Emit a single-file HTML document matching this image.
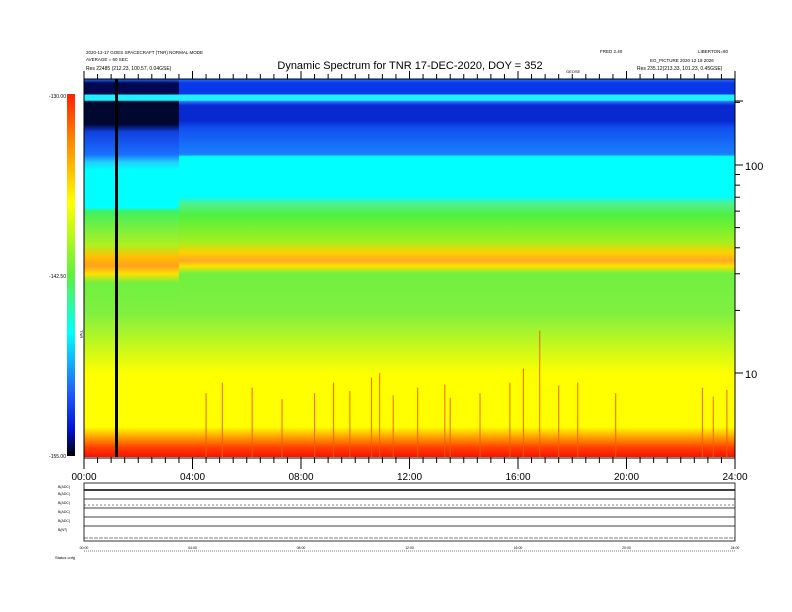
<!DOCTYPE html>
<html><head><meta charset="utf-8"><style>
html,body{margin:0;padding:0;background:#fff;}
svg{display:block;font-family:"Liberation Sans",sans-serif;}
</style></head><body>
<svg id="c" width="792" height="612" viewBox="0 0 792 612">
<defs>
<linearGradient id="cbar" x1="0" y1="0" x2="0" y2="1">
<stop offset="0" stop-color="#ff2000"/><stop offset="0.12" stop-color="#ff8000"/>
<stop offset="0.3" stop-color="#ffff00"/><stop offset="0.5" stop-color="#60f040"/>
<stop offset="0.66" stop-color="#00ffff"/><stop offset="0.82" stop-color="#2060ff"/>
<stop offset="0.93" stop-color="#0010d0"/><stop offset="1" stop-color="#000000"/>
</linearGradient>
<linearGradient id="profR" x1="0" y1="79" x2="0" y2="457" gradientUnits="userSpaceOnUse">
<stop offset="0" stop-color="#2a70ff"/><stop offset="0.011" stop-color="#0838e8"/>
<stop offset="0.04" stop-color="#0838e8"/><stop offset="0.042" stop-color="#20f0ff"/>
<stop offset="0.056" stop-color="#20f0ff"/><stop offset="0.06" stop-color="#2a70ff"/>
<stop offset="0.07" stop-color="#0828d0"/><stop offset="0.11" stop-color="#0828d0"/>
<stop offset="0.13" stop-color="#1050f0"/><stop offset="0.2" stop-color="#1a80ff"/>
<stop offset="0.205" stop-color="#00ffff"/><stop offset="0.31" stop-color="#00ffff"/>
<stop offset="0.33" stop-color="#50f090"/><stop offset="0.36" stop-color="#50f040"/>
<stop offset="0.43" stop-color="#a0f020"/><stop offset="0.46" stop-color="#ffd000"/>
<stop offset="0.48" stop-color="#ffa828"/><stop offset="0.495" stop-color="#ffe000"/>
<stop offset="0.515" stop-color="#70f040"/><stop offset="0.62" stop-color="#80f040"/>
<stop offset="0.78" stop-color="#ffff00"/><stop offset="0.92" stop-color="#ffff00"/>
<stop offset="0.95" stop-color="#ff9800"/><stop offset="0.975" stop-color="#ff4000"/><stop offset="1" stop-color="#ff1000"/>
</linearGradient>
<linearGradient id="profL" x1="0" y1="79" x2="0" y2="457" gradientUnits="userSpaceOnUse">
<stop offset="0" stop-color="#2a70ff"/><stop offset="0.011" stop-color="#000850"/>
<stop offset="0.04" stop-color="#000850"/><stop offset="0.042" stop-color="#20f0ff"/>
<stop offset="0.056" stop-color="#20f0ff"/><stop offset="0.06" stop-color="#000830"/>
<stop offset="0.12" stop-color="#000830"/><stop offset="0.14" stop-color="#1040e0"/>
<stop offset="0.2" stop-color="#1a70ff"/><stop offset="0.22" stop-color="#20d0ff"/>
<stop offset="0.24" stop-color="#00ffff"/><stop offset="0.34" stop-color="#00ffff"/>
<stop offset="0.35" stop-color="#40f060"/><stop offset="0.44" stop-color="#b0f020"/>
<stop offset="0.47" stop-color="#ffc000"/><stop offset="0.495" stop-color="#ffa020"/>
<stop offset="0.515" stop-color="#ffe000"/><stop offset="0.54" stop-color="#70f040"/>
<stop offset="0.62" stop-color="#80f040"/><stop offset="0.78" stop-color="#ffff00"/>
<stop offset="0.92" stop-color="#ffff00"/><stop offset="0.95" stop-color="#ff9800"/>
<stop offset="0.975" stop-color="#ff4000"/><stop offset="1" stop-color="#ff1000"/>
</linearGradient>
</defs>
<text x="86" y="54" font-size="4.5">2020-12-17 GOES SPACECRAFT (TNR) NORMAL MODE</text>
<text x="86" y="61" font-size="4.5">AVERAGE = 60 SEC</text>
<text x="86" y="70" font-size="5">Res   22485 (212.23, 100.57, 0.04GSE)</text>
<text x="410" y="69" font-size="11" text-anchor="middle">Dynamic Spectrum for TNR 17-DEC-2020, DOY = 352</text>
<text x="600" y="53" font-size="4.5">FRED 2.40</text>
<text x="698" y="53" font-size="4.5">LIBERTON=60</text>
<text x="650" y="62" font-size="4.5">EG_PICTURE 2020 12 18 2026</text>
<text x="637" y="70" font-size="5">Res   235.12(213.33, 101.23, 0.45GSE)</text>
<text x="566" y="73" font-size="4">GEOSE</text>
<g id="spec"></g>
<rect x="67" y="94" width="8" height="362" fill="url(#cbar)"/>
<text x="66" y="98" font-size="5" text-anchor="end">-130.00</text>
<text x="66" y="278" font-size="5" text-anchor="end">-142.50</text>
<text x="66" y="458" font-size="5" text-anchor="end">-155.00</text>
<text x="80" y="330" font-size="4" transform="rotate(90 80 330)">TNR</text>
<text x="745" y="170" font-size="11">100</text>
<text x="745" y="378" font-size="11">10</text>
<g id="axes"></g>
<g id="panels"></g>
<text x="55" y="559" font-size="4">Status  cnfg</text>
</svg>
<script>
const hourLabels=["00:00","04:00","08:00","12:00","16:00","20:00","24:00"];
const spikeHours=[4.5,5.1,6.2,7.3,8.5,9.2,9.8,10.6,10.9,11.4,12.3,13.3,13.5,14.6,15.7,16.2,16.8,17.5,18.2,19.6,22.8,23.2,23.7];
const spikeFreq=[8,9,8.5,7.5,8,9,8.2,9.5,10,7.8,8.5,8.8,7.6,8,9,10.5,16,8.7,9,8,8.5,7.7,8.3];
const yTickFreqs=[10,20,30,40,50,60,70,80,90,100,200];
const NS="http://www.w3.org/2000/svg";
const X0=84,X1=735,Y0=79,Y1=457;
const xs=h=>X0+(X1-X0)*h/24;
const ys=f=>373-(Math.log10(f)-1)*208;
function mk(p,tag,at){const e=document.createElementNS(NS,tag);for(const k in at)e.setAttribute(k,at[k]);p.appendChild(e);return e;}
const spec=document.getElementById('spec');
let r=mk(spec,'rect',{x:X0,y:Y0,width:X1-X0,height:Y1-Y0,fill:'url(#profR)'});


r=mk(spec,'rect',{x:X0,y:Y0,width:xs(3.5)-X0,height:Y1-Y0,fill:'url(#profL)'});


spikeHours.forEach((h,i)=>{
  const s=mk(spec,'line',{x1:xs(h),x2:xs(h),y1:ys(spikeFreq[i]),y2:Y1,stroke:'#f06000','stroke-width':1.2,'stroke-opacity':0.8});
  
  
});
r=mk(spec,'rect',{x:115,y:Y0,width:3,height:Y1-Y0,fill:'#000'});


const ax=document.getElementById('axes');
mk(ax,'line',{x1:X0,x2:X1,y1:Y0,y2:Y0,stroke:'#000','stroke-width':1});
mk(ax,'line',{x1:X0,x2:X1,y1:Y1+1,y2:Y1+1,stroke:'#000','stroke-width':1});
mk(ax,'line',{x1:X1,x2:X1,y1:Y0-8,y2:Y1+12,stroke:'#000','stroke-width':1});
mk(ax,'line',{x1:X0,x2:X0,y1:Y0-8,y2:Y1+12,stroke:'#000','stroke-width':1});
for(let m=0;m<=24*2;m++){const h=m/2,big=m%8==0;
  mk(ax,'line',{x1:xs(h),x2:xs(h),y1:Y0,y2:Y0-(big?8:5),stroke:'#000'});
  mk(ax,'line',{x1:xs(h),x2:xs(h),y1:Y1,y2:Y1+(big?12:6),stroke:'#000'});}
hourLabels.forEach((l,i)=>{const t=mk(ax,'text',{x:xs(i*4),y:480,'font-size':10,'text-anchor':'middle'});t.textContent=l;
  
  });
yTickFreqs.forEach(f=>{const y=ys(f);if(y<Y0||y>Y1)return;const big=(f==10||f==100);
  mk(ax,'line',{x1:X1,x2:X1+(big?8:5),y1:y,y2:y,stroke:'#000'});});
mk(ax,'line',{x1:X1,x2:X1+8,y1:Y0+22,y2:Y0+22,stroke:'#000'});
const pn=document.getElementById('panels');
const rows=[483,490,499,508,517,526,541];
const names=["B(ADC)","B(ADC)","B(ADC)","B(ADC)","B(ADC)","B(NT)"];
for(let i=0;i<6;i++){const t=mk(pn,'text',{x:58,y:rows[i]+5,'font-size':3.5});t.textContent=names[i];}
mk(pn,'rect',{x:X0,y:483,width:X1-X0,height:58,fill:'none',stroke:'#000','stroke-width':0.8});
[499,508,517,526].forEach(y=>mk(pn,'line',{x1:X0,x2:X1,y1:y,y2:y,stroke:'#000','stroke-width':0.8}));
mk(pn,'line',{x1:X0,x2:X1,y1:490,y2:490,stroke:'#000','stroke-width':1.6});
mk(pn,'line',{x1:X0,x2:X1,y1:505,y2:505,stroke:'#000','stroke-width':0.6,'stroke-dasharray':'2 2'});
mk(pn,'line',{x1:X0,x2:X1,y1:538,y2:538,stroke:'#000','stroke-width':0.6,'stroke-dasharray':'4 1'});
mk(pn,'line',{x1:X0,x2:X1,y1:551,y2:551,stroke:'#000','stroke-width':0.5,'stroke-dasharray':'1 1'});
for(let i=0;i<=6;i++){const t=mk(pn,'text',{x:xs(i*4),y:549,'font-size':3.5,'text-anchor':'middle'});t.textContent=hourLabels[i];}
</script>
</body></html>
